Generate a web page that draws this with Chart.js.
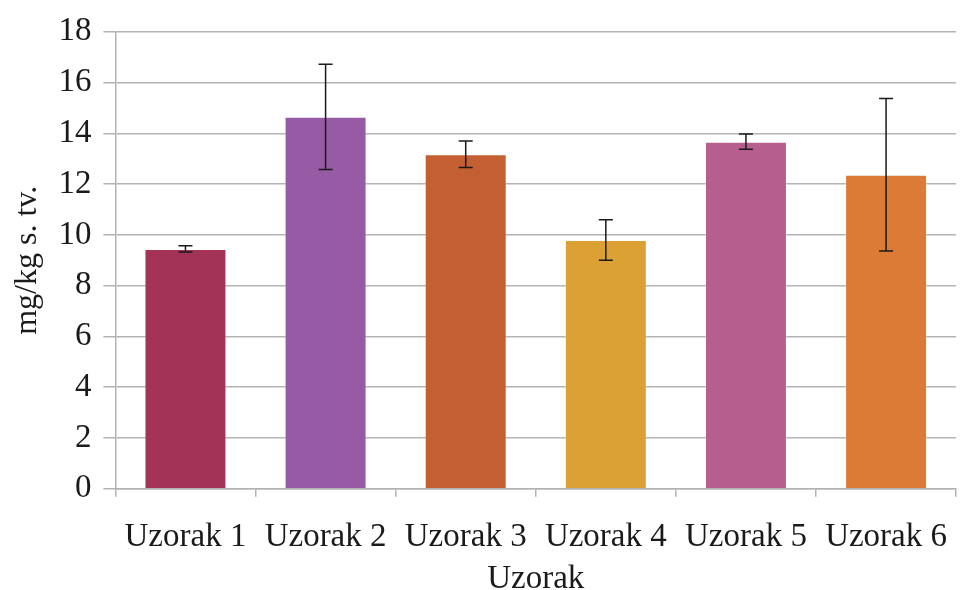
<!DOCTYPE html>
<html lang="hr">
<head>
    <meta charset="UTF-8">
    <title>Uzorak</title>
    <script src="https://cdn.jsdelivr.net/npm/chart.js"></script>
    <style>
        body { margin: 0; padding: 0; background: #ffffff; }
        .chart-container { position: relative; width: 968px; height: 590px; }
    </style>
</head>
<body>
    <div class="chart-container">
        <canvas id="barChart"></canvas>
    </div>

    <script>
        // uzorci i vrijednosti (mg/kg s. tv.)
        const labels = ['Uzorak 1', 'Uzorak 2', 'Uzorak 3', 'Uzorak 4', 'Uzorak 5', 'Uzorak 6'];
        const values = [9.45, 14.65, 13.18, 9.8, 13.67, 12.37];
        const errors = [0.12, 2.07, 0.52, 0.8, 0.3, 3.0];
        const barColors = ['#A33458', '#975AA5', '#C35F32', '#DCA134', '#B65F8F', '#DB7B35'];
        const yTicks = [0, 2, 4, 6, 8, 10, 12, 14, 16, 18];

        const fontFamily = "'Liberation Serif', 'Times New Roman', serif";
        const gridColor = '#b3b3b3';

        // error bars drawn from the data through the scales
        const errorBars = {
            id: 'errorBars',
            afterDatasetsDraw(chart) {
                const ctx = chart.ctx;
                const meta = chart.getDatasetMeta(0);
                const y = chart.scales.y;
                ctx.save();
                ctx.strokeStyle = '#1a1a1a';
                ctx.lineWidth = 1.5;
                meta.data.forEach((bar, i) => {
                    const x = bar.x;
                    const top = y.getPixelForValue(values[i] + errors[i]);
                    const bottom = y.getPixelForValue(values[i] - errors[i]);
                    ctx.beginPath();
                    ctx.moveTo(x, top);
                    ctx.lineTo(x, bottom);
                    ctx.moveTo(x - 7, top);
                    ctx.lineTo(x + 7, top);
                    ctx.moveTo(x - 7, bottom);
                    ctx.lineTo(x + 7, bottom);
                    ctx.stroke();
                });
                ctx.restore();
            }
        };

        const ctx = document.getElementById('barChart').getContext('2d');
        new Chart(ctx, {
            type: 'bar',
            data: {
                labels: labels,
                datasets: [{
                    data: values,
                    backgroundColor: barColors,
                    borderColor: 'rgba(255,255,255,0.35)',
                    borderWidth: 1,
                    categoryPercentage: 1,
                    barPercentage: 0.585
                }]
            },
            options: {
                responsive: true,
                maintainAspectRatio: false,
                animation: false,
                layout: { padding: { top: 12, right: 0, left: 8, bottom: 0 } },
                plugins: {
                    legend: { display: false },
                    tooltip: { enabled: false }
                },
                scales: {
                    x: {
                        grid: {
                            display: true,
                            drawOnChartArea: false,
                            color: gridColor,
                            lineWidth: 1.5,
                            tickLength: 8
                        },
                        border: { color: gridColor, width: 1.5 },
                        ticks: {
                            color: '#1a1a1a',
                            padding: 21,
                            maxRotation: 0,
                            font: { family: fontFamily, size: 33 }
                        },
                        title: {
                            display: true,
                            text: 'Uzorak',
                            color: '#1a1a1a',
                            padding: { top: -19, bottom: -9 },
                            font: { family: fontFamily, size: 33 }
                        }
                    },
                    y: {
                        min: 0,
                        max: 18,
                        afterBuildTicks: (axis) => {
                            axis.ticks = yTicks.map(v => ({ value: v }));
                        },
                        grid: {
                            color: gridColor,
                            lineWidth: 1.5,
                            tickLength: 12
                        },
                        border: { color: gridColor, width: 1.5 },
                        ticks: {
                            color: '#1a1a1a',
                            padding: 12,
                            font: { family: fontFamily, size: 33 }
                        },
                        title: {
                            display: true,
                            text: 'mg/kg s. tv.',
                            color: '#1a1a1a',
                            padding: { top: 0, bottom: 0 },
                            font: { family: fontFamily, size: 32 }
                        }
                    }
                }
            },
            plugins: [errorBars]
        });
    </script>
</body>
</html>
